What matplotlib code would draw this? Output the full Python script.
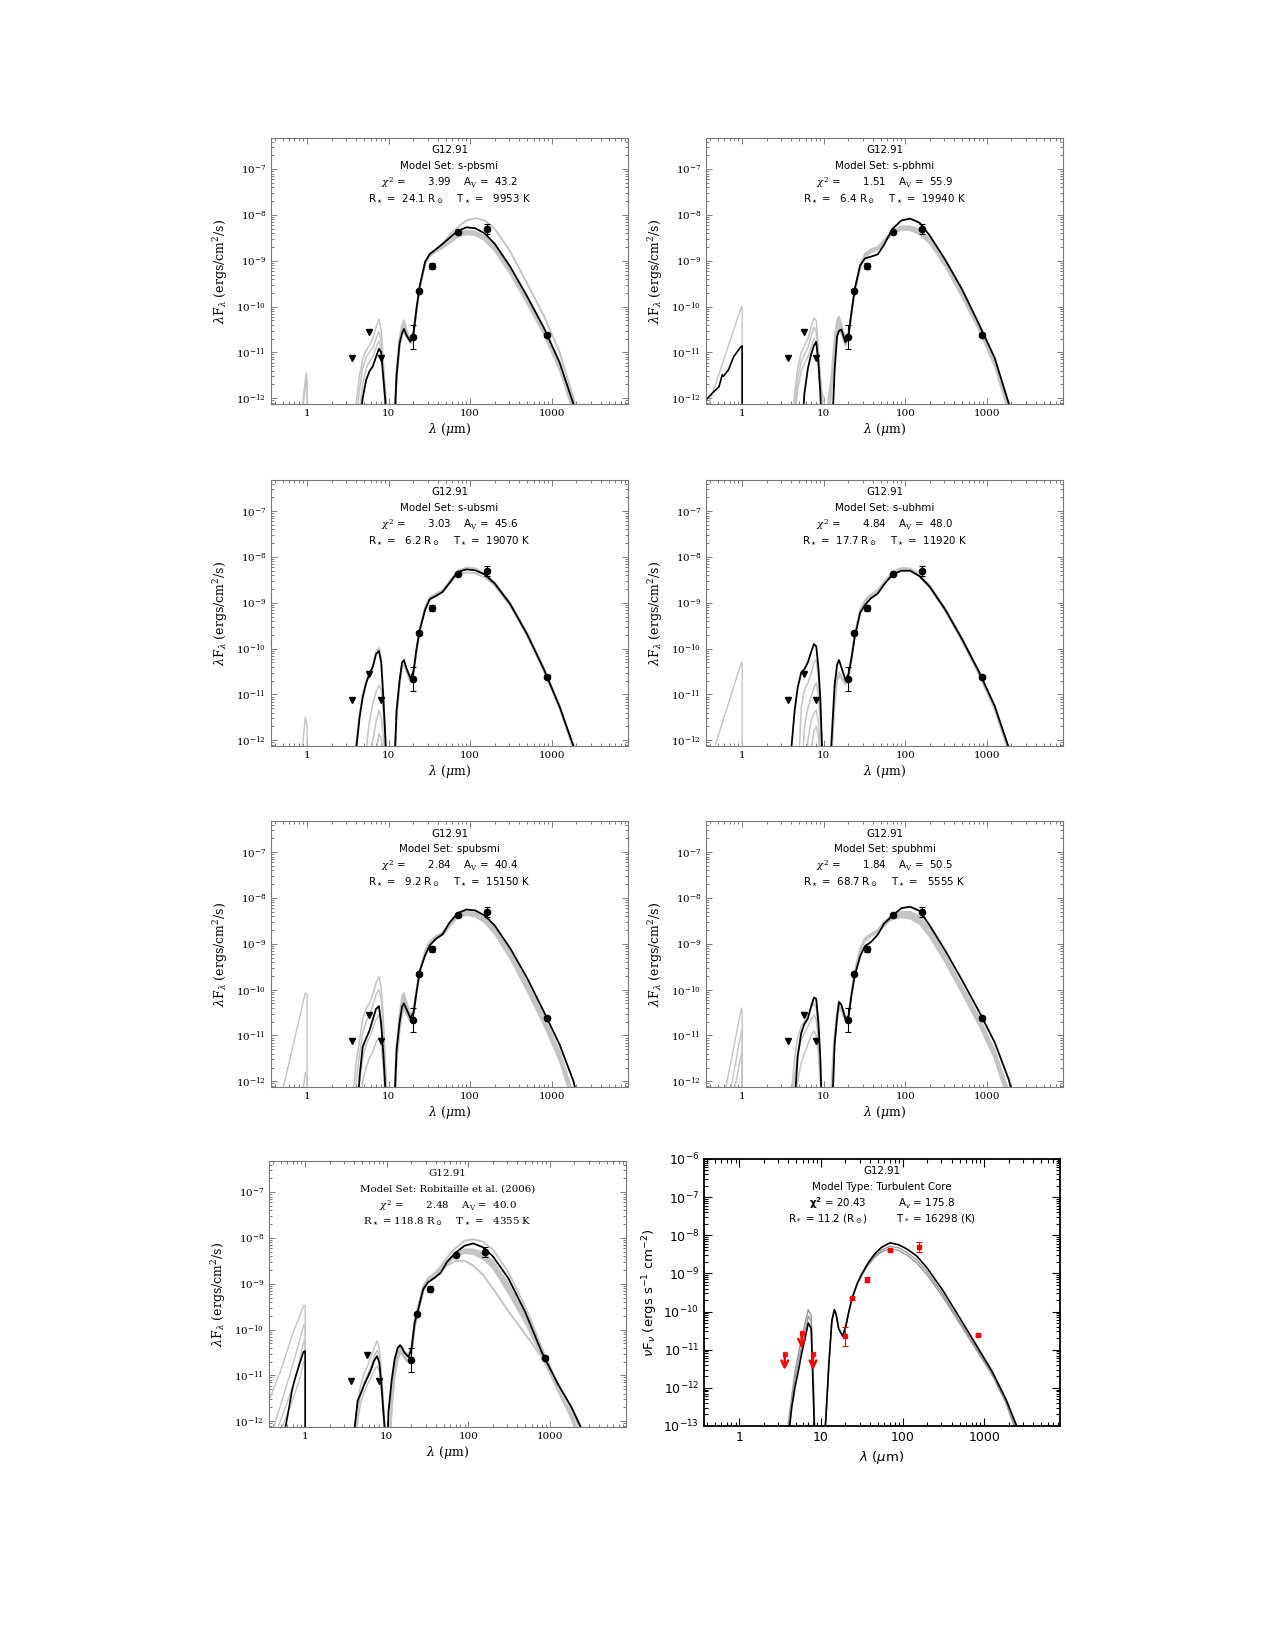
import numpy as np
import matplotlib
matplotlib.use('Agg')
import matplotlib.pyplot as plt
from matplotlib.ticker import LogLocator, NullFormatter, FixedLocator, FixedFormatter

plt.rcParams['font.family'] = ['DejaVu Serif']
plt.rcParams['mathtext.fontset'] = 'dejavuserif'

# wavelength grids (micron) shared by the model curves
wl_mir = [3.6, 4.0, 4.4, 4.8, 5.3, 5.8, 6.4, 7.0, 7.6, 8.1, 8.6, 9.1, 9.6, 10.2]
wl_fir = [10.5, 11.5, 12.5, 13.6, 14.6, 15.4, 16.5, 18.5, 20.2, 22, 24, 28, 32, 38, 46, 55,
          70, 90, 115, 150, 200, 310, 500, 800, 1250, 1850, 2500]

# observed fluxes (ergs/cm2/s)
obs_wl = [19.7, 23.6, 34, 70, 160, 870]
obs_f = [2.2e-11, 2.2e-10, 7.7e-10, 4.2e-9, 4.9e-9, 2.45e-11]
obs_lo = [1.2e-11, 2.05e-10, 6.7e-10, 3.95e-9, 3.8e-9, 2.2e-11]
obs_hi = [4.0e-11, 2.4e-10, 8.9e-10, 4.5e-9, 6.3e-9, 2.7e-11]
lim_wl = [3.6, 5.8, 8.0]
lim_f = [7.5e-12, 2.8e-11, 7.5e-12]

# panel text
model_sets = ['s-pbsmi', 's-pbhmi', 's-ubsmi', 's-ubhmi', 'spubsmi', 'spubhmi',
              'Robitaille et al. (2006)']
chi2 = ['3.99', '1.51', '3.03', '4.84', '2.84', '1.84', '2.48']
av = ['43.2', '55.9', '45.6', '48.0', '40.4', '50.5', '40.0']
rstar = ['24.1', '6.4', '6.2', '17.7', '9.2', '68.7', '118.8']
tstar = ['9953', '19940', '19070', '11920', '15150', '5555', '4355']

# ---- model curves, log10(lambda F_lambda) ----
# panel 1: s-pbsmi
p1_nir_gr = [([0.86, 0.97, 1.0, 1.0], [-12.3, -11.45, -11.6, -13]),
             ([0.88, 0.97, 1.0, 1.0], [-12.3, -11.6, -11.7, -13])]
p1_mir_bk = [-13, -13, -12.6, -12.0, -11.6, -11.42, -11.3, -11.1, -10.92, -11.0, -11.55, -12.05, -13, -13]
p1_mir_gr = [[-13, -12.1, -11.5, -11.15, -10.95, -10.85, -10.7, -10.45, -10.28, -10.5, -11.2, -11.8, -12.4, -13],
             [-13, -12.5, -11.8, -11.35, -11.1, -11.0, -10.9, -10.7, -10.55, -10.75, -11.4, -12.0, -12.7, -13],
             [-13, -13, -12.3, -11.7, -11.35, -11.2, -11.1, -10.9, -10.75, -10.95, -11.6, -12.3, -13, -13]]
p1_fir_bk = [-13, -13, -11.5, -10.8, -10.58, -10.49, -10.62, -10.77, -10.58, -10.03, -9.56, -9.02, -8.85,
             -8.75, -8.63, -8.51, -8.35, -8.27, -8.29, -8.40, -8.63, -9.13, -9.78, -10.46, -11.22, -12.13, -13]
p1_fir_gr = [[-13, -13, -11.4, -10.7, -10.4, -10.3, -10.5, -10.75, -10.58, -10.05, -9.58, -9.05, -8.86,
              -8.77, -8.67, -8.56, -8.41, -8.34, -8.36, -8.47, -8.70, -9.2, -9.85, -10.53, -11.3, -12.2, -13],
             [-13, -13, -11.6, -10.9, -10.6, -10.55, -10.65, -10.8, -10.6, -10.07, -9.6, -9.08, -8.89,
              -8.8, -8.72, -8.62, -8.48, -8.42, -8.44, -8.55, -8.78, -9.28, -9.93, -10.6, -11.38, -12.3, -13],
             [-13, -13, -11.5, -10.8, -10.55, -10.47, -10.6, -10.75, -10.57, -10.05, -9.57, -9.05, -8.85,
              -8.76, -8.62, -8.45, -8.27, -8.12, -8.07, -8.12, -8.3, -8.8, -9.5, -10.2, -11.0, -12.0, -13]]

# panel 2: s-pbhmi
p2_nir_bk = ([0.36, 0.43, 0.52, 0.57, 0.59, 0.68, 0.79, 0.97, 1.0, 1.0],
             [-12.04, -11.89, -11.75, -11.49, -11.52, -11.38, -11.09, -10.87, -10.86, -13])
p2_nir_gr = [([0.38, 0.98, 1.0, 1.0], [-12.2, -10.0, -10.05, -13])]
p2_mir_bk = [-13, -13, -13, -13, -13, -11.9, -11.35, -11.05, -10.85, -10.77, -11.2, -11.9, -13, -13]
p2_mir_gr = [[-13, -13, -11.9, -11.35, -11.0, -10.85, -10.7, -10.45, -10.25, -10.3, -10.9, -11.5, -11.9, -12.0],
             [-13, -13, -12.2, -11.55, -11.2, -11.05, -10.9, -10.65, -10.45, -10.55, -11.1, -11.7, -12.1, -12.3],
             [-13, -13, -12.5, -11.8, -11.4, -11.25, -11.1, -10.9, -10.7, -10.8, -11.3, -11.8, -12.0, -12.1]]
p2_fir_bk = [-13, -13, -13, -11.4, -10.65, -10.53, -10.5, -10.78, -10.62, -10.1, -9.62, -9.1, -8.95,
             -8.91, -8.86, -8.65, -8.3, -8.12, -8.08, -8.17, -8.45, -8.98, -9.63, -10.38, -11.12, -12.1, -13]
p2_fir_gr = [[-13, -12.0, -11.5, -10.7, -10.3, -10.22, -10.4, -10.7, -10.55, -10.1, -9.65, -9.1, -8.85,
              -8.75, -8.7, -8.55, -8.33, -8.25, -8.25, -8.32, -8.52, -9.02, -9.68, -10.4, -11.2, -12.2, -13],
             [-13, -12.5, -11.8, -11.0, -10.6, -10.5, -10.6, -10.85, -10.65, -10.15, -9.7, -9.15, -8.92,
              -8.82, -8.75, -8.6, -8.4, -8.32, -8.33, -8.42, -8.62, -9.12, -9.8, -10.5, -11.3, -12.3, -13]]

# panel 3: s-ubsmi
p3_nir_gr = [([0.86, 0.95, 1.0, 1.0], [-12.3, -11.5, -11.7, -13])]
p3_mir_bk = [-13, -12.2, -11.5, -11.07, -10.75, -10.56, -10.4, -10.12, -10.05, -10.3, -11.07, -11.94, -13, -13]
p3_mir_gr = [[-13, -12.0, -11.4, -11.0, -10.7, -10.52, -10.35, -10.05, -9.98, -10.2, -10.95, -11.8, -13, -13],
             [-13, -13, -13, -13, -12.2, -11.6, -11.2, -10.95, -10.8, -10.9, -11.4, -12.0, -13, -13],
             [-13, -13, -13, -13, -13, -12.4, -12.0, -11.6, -11.35, -11.5, -11.9, -12.4, -13, -13],
             [-13, -13, -13, -13, -13, -13, -13, -12.3, -11.85, -11.95, -12.3, -13, -13, -13]]
p3_fir_bk = [-13, -13, -11.36, -10.7, -10.3, -10.25, -10.42, -10.65, -10.49, -10.0, -9.6, -9.15, -8.92,
             -8.85, -8.76, -8.58, -8.33, -8.27, -8.29, -8.38, -8.58, -9.03, -9.69, -10.45, -11.27, -12.13, -13]
p3_fir_gr = [[-13, -13, -11.4, -10.75, -10.35, -10.3, -10.45, -10.7, -10.52, -10.0, -9.58, -9.1, -8.88,
              -8.8, -8.72, -8.55, -8.3, -8.23, -8.25, -8.36, -8.56, -9.0, -9.66, -10.42, -11.25, -12.15, -13],
             [-13, -13, -11.5, -10.8, -10.4, -10.35, -10.5, -10.72, -10.55, -10.05, -9.62, -9.15, -8.92,
              -8.84, -8.76, -8.6, -8.38, -8.34, -8.35, -8.44, -8.62, -9.06, -9.72, -10.48, -11.3, -12.2, -13]]

# panel 4: s-ubhmi
p4_nir_gr = [([0.45, 0.98, 1.0, 1.0], [-12.2, -10.3, -10.35, -13])]
p4_mir_bk = [-13, -12.2, -11.36, -10.85, -10.52, -10.45, -10.3, -10.08, -9.9, -9.95, -10.4, -11.1, -12.3, -13]
p4_mir_gr = [[-13, -13, -13, -13, -11.3, -10.9, -10.75, -10.55, -10.3, -10.25, -10.6, -11.3, -12.2, -13],
             [-13, -13, -13, -13, -13, -11.7, -11.3, -11.05, -10.85, -10.75, -11.0, -11.6, -12.4, -13],
             [-13, -13, -13, -13, -13, -13, -12.0, -11.6, -11.4, -11.35, -11.6, -12.1, -13, -13],
             [-13, -13, -13, -13, -13, -13, -13, -12.2, -11.8, -11.7, -11.9, -12.5, -13, -13]]
p4_fir_bk = [-13, -13, -12.0, -10.8, -10.35, -10.25, -10.41, -10.68, -10.55, -10.2, -9.75, -9.22, -9.05,
             -8.9, -8.8, -8.6, -8.38, -8.3, -8.3, -8.42, -8.65, -9.15, -9.8, -10.5, -11.25, -12.15, -13]
p4_fir_gr = [[-13, -13, -12.2, -11.1, -10.6, -10.52, -10.6, -10.75, -10.6, -10.15, -9.7, -9.15, -8.95,
              -8.82, -8.72, -8.55, -8.32, -8.24, -8.25, -8.38, -8.62, -9.13, -9.78, -10.5, -11.28, -12.2, -13],
             [-13, -13, -12.3, -11.2, -10.7, -10.6, -10.65, -10.78, -10.62, -10.18, -9.72, -9.18, -8.98,
              -8.86, -8.76, -8.58, -8.36, -8.28, -8.29, -8.42, -8.67, -9.18, -9.84, -10.56, -11.33, -12.25, -13]]

# panel 5: spubsmi
p5_nir_gr = [([0.5, 0.95, 1.0, 1.0], [-12.2, -10.07, -10.1, -13]),
             ([0.88, 0.95, 1.0, 1.0], [-12.3, -11.8, -11.9, -13])]
p5_mir_bk = [-13, -13, -11.9, -11.25, -11.06, -10.9, -10.65, -10.42, -10.36, -10.75, -11.4, -12.15, -13, -13]
p5_mir_gr = [[-12.3, -11.6, -11.1, -10.65, -10.4, -10.3, -10.1, -9.85, -9.72, -9.95, -10.6, -11.5, -12.4, -13],
             [-12.8, -12.0, -11.4, -10.95, -10.7, -10.55, -10.35, -10.1, -10.0, -10.2, -10.85, -11.7, -12.6, -13],
             [-13, -12.8, -12.0, -11.5, -11.2, -11.05, -10.85, -10.65, -10.55, -10.7, -11.25, -12.0, -13, -13],
             [-13, -13, -12.8, -12.0, -11.7, -11.5, -11.35, -11.15, -11.05, -11.2, -11.7, -12.4, -13, -13]]
p5_fir_bk = [-13, -13, -11.32, -10.72, -10.37, -10.3, -10.42, -10.62, -10.5, -10.05, -9.6, -9.25, -9.03,
             -8.89, -8.79, -8.55, -8.33, -8.25, -8.27, -8.38, -8.6, -9.1, -9.75, -10.48, -11.2, -12.0, -13]
p5_fir_gr = [[-13, -12.5, -11.2, -10.55, -10.15, -10.07, -10.25, -10.55, -10.45, -10.0, -9.6, -9.15, -8.95,
              -8.83, -8.75, -8.58, -8.36, -8.3, -8.32, -8.44, -8.66, -9.18, -9.86, -10.58, -11.35, -12.3, -13],
             [-13, -13, -11.6, -10.9, -10.5, -10.42, -10.52, -10.7, -10.55, -10.05, -9.62, -9.2, -9.0,
              -8.88, -8.8, -8.63, -8.42, -8.37, -8.4, -8.53, -8.78, -9.32, -10.02, -10.76, -11.55, -12.5, -13]]

# panel 6: spubhmi
p6_nir_gr = [([0.62, 0.98, 1.0, 1.0], [-12.2, -10.4, -10.45, -13]),
             ([0.72, 0.98, 1.0, 1.0], [-12.2, -10.9, -10.95, -13]),
             ([0.8, 0.98, 1.0, 1.0], [-12.2, -11.4, -11.45, -13])]
p6_mir_bk = [-13, -13, -12.5, -11.45, -10.95, -10.75, -10.63, -10.37, -10.17, -10.2, -10.7, -11.5, -13, -13]
p6_mir_gr = [[-13, -12.3, -11.5, -11.05, -10.8, -10.7, -10.55, -10.4, -10.3, -10.4, -10.95, -11.7, -12.6, -13],
             [-13, -12.7, -11.9, -11.4, -11.1, -10.95, -10.8, -10.65, -10.55, -10.65, -11.1, -11.8, -12.7, -13],
             [-13, -13, -12.6, -12.0, -11.6, -11.4, -11.2, -11.0, -10.9, -11.0, -11.4, -12.0, -13, -13]]
p6_fir_bk = [-13, -13, -13, -11.2, -10.6, -10.27, -10.33, -10.64, -10.58, -10.1, -9.7, -9.27, -9.05,
             -8.96, -8.8, -8.56, -8.38, -8.22, -8.19, -8.28, -8.6, -9.15, -9.8, -10.47, -11.15, -11.95, -12.8]
p6_fir_gr = [[-13, -13, -12.0, -11.0, -10.5, -10.25, -10.35, -10.62, -10.55, -10.05, -9.6, -9.1, -8.88,
              -8.78, -8.7, -8.52, -8.36, -8.3, -8.3, -8.4, -8.68, -9.25, -9.92, -10.6, -11.32, -12.2, -13],
             [-13, -13, -12.3, -11.2, -10.65, -10.4, -10.45, -10.68, -10.58, -10.1, -9.65, -9.15, -8.93,
              -8.83, -8.75, -8.6, -8.45, -8.42, -8.45, -8.56, -8.84, -9.4, -10.08, -10.76, -11.5, -12.45, -13]]

# panel 7: Robitaille et al. (2006)
p7_nir_bk = ([0.55, 0.62, 0.69, 0.75, 0.87, 0.95, 0.99, 1.0, 1.0],
             [-12.3, -11.8, -11.32, -11.07, -10.7, -10.49, -10.47, -10.47, -13])
p7_nir_gr = [([0.35, 0.5, 0.7, 0.96, 1.0, 1.0], [-11.6, -10.9, -10.1, -9.47, -9.5, -13]),
             ([0.4, 0.55, 0.75, 0.96, 1.0, 1.0], [-12.2, -11.4, -10.6, -9.9, -10.0, -13]),
             ([0.45, 0.6, 0.8, 0.96, 1.0, 1.0], [-12.2, -11.6, -10.9, -10.25, -10.3, -13]),
             ([0.5, 0.65, 0.85, 0.96, 1.0, 1.0], [-12.2, -11.7, -11.1, -10.7, -10.75, -13])]
p7_mir_bk = [-13, -12.2, -11.55, -11.4, -11.2, -11.05, -10.88, -10.68, -10.58, -10.72, -11.2, -11.8, -12.3, -12.6]
p7_mir_gr = [[-13, -12.3, -11.6, -11.2, -10.95, -10.8, -10.6, -10.4, -10.25, -10.4, -10.95, -11.6, -12.4, -13],
             [-13, -12.5, -11.8, -11.4, -11.15, -11.0, -10.8, -10.6, -10.45, -10.55, -11.05, -11.7, -12.5, -13],
             [-13, -12.8, -12.0, -11.6, -11.35, -11.2, -11.05, -10.9, -10.8, -10.9, -11.3, -11.9, -12.6, -13]]
p7_fir_bk = [-11.8, -11.1, -10.65, -10.4, -10.34, -10.4, -10.5, -10.6, -10.4, -9.85, -9.6, -9.12, -8.97,
             -8.88, -8.76, -8.52, -8.32, -8.17, -8.12, -8.2, -8.4, -8.88, -9.62, -10.5, -11.18, -11.7, -12.2]
p7_fir_gr = [[-13, -11.5, -10.8, -10.45, -10.35, -10.38, -10.5, -10.55, -10.35, -9.8, -9.52, -9.05, -8.88,
              -8.78, -8.62, -8.42, -8.22, -8.06, -8.03, -8.08, -8.25, -8.75, -9.5, -10.4, -11.2, -11.75, -12.3],
             [-13, -11.6, -10.9, -10.55, -10.42, -10.45, -10.58, -10.7, -10.45, -9.9, -9.6, -9.1, -8.9,
              -8.78, -8.68, -8.5, -8.35, -8.25, -8.25, -8.32, -8.5, -9.0, -9.7, -10.55, -11.3, -11.85, -12.5],
             [-13, -11.7, -11.0, -10.65, -10.5, -10.52, -10.62, -10.72, -10.5, -9.95, -9.65, -9.15, -8.95,
              -8.82, -8.72, -8.56, -8.4, -8.33, -8.35, -8.45, -8.65, -9.2, -9.85, -10.58, -11.32, -11.95, -12.6],
             [-13, -11.7, -11.0, -10.65, -10.5, -10.52, -10.62, -10.72, -10.5, -9.95, -9.65, -9.15, -8.95,
              -8.8, -8.72, -8.6, -8.5, -8.5, -8.6, -8.8, -9.1, -9.6, -10.1, -10.6, -11.3, -11.9, -12.5]]

# last panel: turbulent core fit (nu F_nu)
p9_obs_wl = [19.7, 23.8, 37, 70, 160, 852]
p9_obs_f = [2.3e-11, 2.2e-10, 6.9e-10, 4.1e-9, 4.8e-9, 2.4e-11]
p9_obs_lo = [1.26e-11, 2.0e-10, 6.0e-10, 3.9e-9, 3.7e-9, 2.25e-11]
p9_obs_hi = [4.0e-11, 2.4e-10, 8.0e-10, 4.3e-9, 6.5e-9, 2.6e-11]
p9_lim_wl = [3.6, 5.8, 8.0]
p9_lim_f = [7.6e-12, 2.8e-11, 7.6e-12]
p9_mir_bk = [-14, -13.3, -12.5, -12.0, -11.55, -11.1, -10.7, -10.3, -10.45, -12.3, -14, -14, -14, -14]
p9_mir_gr = [[-14, -12.9, -12.2, -11.6, -11.1, -10.7, -10.3, -9.95, -10.1, -11.8, -14, -14, -14, -14],
             [-14, -13.1, -12.4, -11.8, -11.3, -10.9, -10.5, -10.12, -10.25, -12.0, -14, -14, -14, -14]]
p9_fir_bk = [-14, -12.8, -11.4, -10.25, -9.95, -10.09, -10.45, -10.65, -10.38, -10.0, -9.66, -9.25, -9.0,
             -8.72, -8.48, -8.32, -8.2, -8.25, -8.37, -8.55, -8.86, -9.44, -10.16, -10.88, -11.57, -12.3, -13.0]
p9_fir_gr = [[-14, -12.8, -11.4, -10.25, -9.95, -10.09, -10.45, -10.65, -10.38, -10.0, -9.66, -9.26, -9.02,
              -8.75, -8.53, -8.39, -8.29, -8.33, -8.46, -8.65, -8.96, -9.54, -10.25, -10.95, -11.62, -12.35, -13.1],
             [-14, -12.8, -11.4, -10.25, -9.95, -10.09, -10.45, -10.65, -10.38, -10.0, -9.66, -9.27, -9.04,
              -8.78, -8.57, -8.44, -8.35, -8.4, -8.53, -8.73, -9.04, -9.61, -10.31, -11.0, -11.66, -12.4, -13.2]]

GREY = '#c4c4c4'


def lin(v):
    return np.power(10.0, np.asarray(v, dtype=float))


def style_axes(ax):
    ax.set_xscale('log')
    ax.set_yscale('log')
    ax.set_xlim(0.36, 8600)
    ax.set_ylim(7.5e-13, 4.8e-7)
    ax.xaxis.set_major_locator(FixedLocator([1, 10, 100, 1000]))
    ax.xaxis.set_major_formatter(FixedFormatter(['1', '10', '100', '1000']))
    ax.xaxis.set_minor_locator(LogLocator(base=10, subs=np.arange(2, 10), numticks=20))
    ax.xaxis.set_minor_formatter(NullFormatter())
    ax.yaxis.set_major_locator(FixedLocator([1e-12, 1e-11, 1e-10, 1e-9, 1e-8, 1e-7]))
    ax.yaxis.set_minor_locator(LogLocator(base=10, subs=np.arange(2, 10), numticks=20))
    ax.yaxis.set_minor_formatter(NullFormatter())
    ax.tick_params(which='both', direction='in', top=True, right=True, color='#666666',
                   labelsize=7.5, width=0.6)
    ax.tick_params(which='major', length=4.5)
    ax.tick_params(which='minor', length=2.2)
    for sp in ax.spines.values():
        sp.set_color('#777777')
        sp.set_linewidth(0.8)
    ax.set_xlabel(r'$\lambda$ ($\mu$m)', fontsize=9, labelpad=2.5)
    ax.set_ylabel(r'$\lambda$F$_\lambda$ (ergs/cm$^2$/s)', fontsize=9, labelpad=4)


def sed_panel(ax, nir_bk, nir_gr, mir_bk, mir_gr, fir_bk, fir_gr, band):
    for wl, lg in nir_gr:
        ax.plot(wl, lin(lg), color=GREY, lw=1.0)
    for lg in mir_gr:
        ax.plot(wl_mir, lin(lg), color=GREY, lw=1.1)
    for lg in fir_gr:
        ax.plot(wl_fir, lin(lg), color=GREY, lw=1.4)
    if band is not None:
        ax.fill_between(wl_fir, lin(fir_gr[band[0]]), lin(fir_gr[band[1]]), color=GREY, lw=0)
    if nir_bk is not None:
        ax.plot(nir_bk[0], lin(nir_bk[1]), color='k', lw=1.2)
    ax.plot(wl_mir + wl_fir, lin(mir_bk + fir_bk), color='k', lw=1.3)
    ax.errorbar(obs_wl, obs_f, yerr=[np.subtract(obs_f, obs_lo), np.subtract(obs_hi, obs_f)],
                fmt='o', color='k', ms=4.5, elinewidth=0.8, capsize=2.5, capthick=0.8)
    ax.plot(lim_wl, lim_f, 'v', color='k', ms=4)


fig = plt.figure(figsize=(12.75, 16.5), dpi=100)

col_l = [0.2125, 0.5537]
row_b = [0.7552, 0.5479, 0.3412, 0.1352]
W, H = 0.280, 0.1612

panels = [
    (None, p1_nir_gr, p1_mir_bk, p1_mir_gr, p1_fir_bk, p1_fir_gr, (0, 1)),
    (p2_nir_bk, p2_nir_gr, p2_mir_bk, p2_mir_gr, p2_fir_bk, p2_fir_gr, (0, 1)),
    (None, p3_nir_gr, p3_mir_bk, p3_mir_gr, p3_fir_bk, p3_fir_gr, None),
    (None, p4_nir_gr, p4_mir_bk, p4_mir_gr, p4_fir_bk, p4_fir_gr, None),
    (None, p5_nir_gr, p5_mir_bk, p5_mir_gr, p5_fir_bk, p5_fir_gr, (0, 1)),
    (None, p6_nir_gr, p6_mir_bk, p6_mir_gr, p6_fir_bk, p6_fir_gr, (0, 1)),
    (p7_nir_bk, p7_nir_gr, p7_mir_bk, p7_mir_gr, p7_fir_bk, p7_fir_gr, (1, 2)),
]

for i, pdata in enumerate(panels):
    r, c = divmod(i, 2)
    left = col_l[c] if i != 6 else 0.211
    ax = fig.add_axes([left, row_b[r], W, H])
    sed_panel(ax, *pdata)
    style_axes(ax)
    fam = 'DejaVu Serif' if i == 6 else 'DejaVu Sans'
    lines = ['G12.91',
             'Model Set: ' + model_sets[i],
             r'$\chi^2$ =' + ' ' * 7 + f'{chi2[i]}    A$_{{\\rm V}}$ =  {av[i]}',
             f'R$_\\star$ = {rstar[i]:>5} R$_\\odot$    T$_\\star$ = {tstar[i]:>6} K']
    for k, txt in enumerate(lines):
        ax.text(0.5, 0.953 - 0.06 * k, txt, transform=ax.transAxes, ha='center', va='center',
                fontsize=7.4, family=fam, math_fontfamily='dejavuserif')

# last panel: turbulent core model (IDL style)
ax = fig.add_axes([0.5522, 0.1358, 0.2792, 0.1618])
for lg in p9_mir_gr:
    ax.plot(wl_mir, lin(lg), color='#999999', lw=1.0)
for lg in p9_fir_gr:
    ax.plot(wl_fir, lin(lg), color='#999999', lw=1.0)
ax.plot(wl_mir + wl_fir, lin(p9_mir_bk + p9_fir_bk), color='k', lw=1.2)
ax.errorbar(p9_obs_wl, p9_obs_f, yerr=[np.subtract(p9_obs_f, p9_obs_lo), np.subtract(p9_obs_hi, p9_obs_f)],
            fmt='s', color='red', ms=3.5, elinewidth=0.8, capsize=2, capthick=0.8)
ax.plot(p9_lim_wl, p9_lim_f, 's', color='red', ms=3, alpha=0.8)
for x, y in zip(p9_lim_wl, p9_lim_f):
    ax.annotate('', xy=(x, y / 2.6), xytext=(x, y),
                arrowprops=dict(arrowstyle='->', color='red', lw=1.8, shrinkA=0, shrinkB=0,
                                mutation_scale=12))
ax.set_xscale('log')
ax.set_yscale('log')
ax.set_xlim(0.37, 8500)
ax.set_ylim(1e-13, 1e-6)
ax.xaxis.set_major_locator(FixedLocator([1, 10, 100, 1000]))
ax.xaxis.set_major_formatter(FixedFormatter(['1', '10', '100', '1000']))
ax.xaxis.set_minor_locator(LogLocator(base=10, subs=np.arange(2, 10), numticks=20))
ax.xaxis.set_minor_formatter(NullFormatter())
ax.yaxis.set_major_locator(FixedLocator([1e-13, 1e-12, 1e-11, 1e-10, 1e-9, 1e-8, 1e-7, 1e-6]))
ax.yaxis.set_minor_locator(LogLocator(base=10, subs=np.arange(2, 10), numticks=20))
ax.yaxis.set_minor_formatter(NullFormatter())
ax.tick_params(which='both', direction='in', top=True, right=True, color='k', width=0.8)
ax.tick_params(which='major', length=6)
ax.tick_params(which='minor', length=3)
for lab in ax.get_xticklabels() + ax.get_yticklabels():
    lab.set_family('DejaVu Sans')
    lab.set_math_fontfamily('dejavusans')
    lab.set_fontsize(9)
for sp in ax.spines.values():
    sp.set_linewidth(1.3)
ax.set_xlabel(r'$\lambda$ ($\mu$m)', fontsize=9.5, family='DejaVu Sans', math_fontfamily='dejavusans')
ax.set_ylabel(r'$\nu$F$_\nu$ (ergs s$^{-1}$ cm$^{-2}$)', fontsize=9.5, family='DejaVu Sans',
              math_fontfamily='dejavusans', labelpad=2)
p9_lines = ['G12.91', 'Model Type: Turbulent Core',
            r'$\mathbf{\chi^2}$ = 20.43' + ' ' * 10 + r'A$_v$ = 175.8',
            r'R$_*$ = 11.2 (R$_\odot$)' + ' ' * 9 + r'T$_*$ = 16298 (K)']
for k, txt in enumerate(p9_lines):
    ax.text(0.5, 0.955 - 0.06 * k, txt, transform=ax.transAxes, ha='center', va='center',
            fontsize=7.4, family='DejaVu Sans', math_fontfamily='dejavusans')

fig.savefig('out.png', dpi=100)
